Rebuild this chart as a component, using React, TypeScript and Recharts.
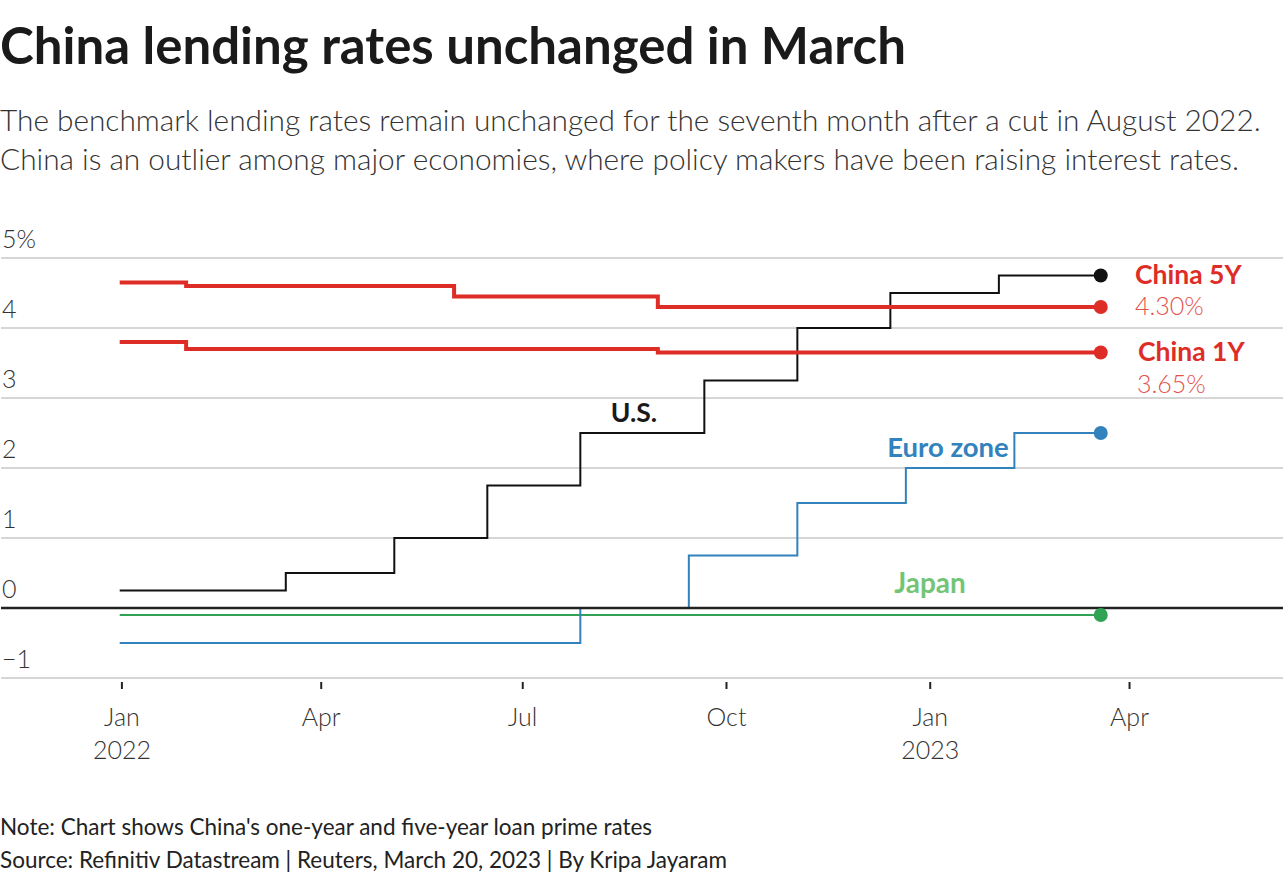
import { LineChart, Line, XAxis, YAxis, CartesianGrid, ReferenceLine } from 'recharts';

// policy / loan prime rates, in percent; each date is where the step happens
const startDate = '2021-12-31';
const endDate = '2023-03-19';

const china5yDates = [startDate, '2022-01-30', '2022-05-31', '2022-08-31', endDate];
const china5yRates = [4.65, 4.6, 4.45, 4.3, 4.3];

const china1yDates = [startDate, '2022-01-30', '2022-08-31', endDate];
const china1yRates = [3.8, 3.7, 3.65, 3.65];

const usDates = [startDate, '2022-03-16', '2022-05-04', '2022-06-15', '2022-07-27', '2022-09-21', '2022-11-02', '2022-12-14', '2023-02-01', endDate];
const usRates = [0.25, 0.5, 1, 1.75, 2.5, 3.25, 4, 4.5, 4.75, 4.75];

const euroDates = [startDate, '2022-07-27', '2022-09-14', '2022-11-02', '2022-12-21', '2023-02-08', endDate];
const euroRates = [-0.5, 0, 0.75, 1.5, 2, 2.5, 2.5];

const japanDates = [startDate, endDate];
const japanRates = [-0.1, -0.1];

const tickDates = ['2022-01-01', '2022-04-01', '2022-07-01', '2022-10-01', '2023-01-01', '2023-04-01'];
const tickMonths = ['Jan', 'Apr', 'Jul', 'Oct', 'Jan', 'Apr'];
const tickYears = ['2022', '', '', '', '2023', ''];

const yTicks = [-1, 0, 1, 2, 3, 4, 5];
const yTickLabels = ['−1', '0', '1', '2', '3', '4', '5%'];

const FONT = 'Lato, "Noto Sans", sans-serif';
const RED = '#de2d26';
const BLUE = '#3182bd';
const GREEN = '#31a354';

const origin = Date.parse('2022-01-01');
const toDay = (d: string) => (Date.parse(d) - origin) / 86400000;
const toPoints = (dates: string[], rates: number[]) =>
    dates.map((d, i) => ({ day: toDay(d), rate: rates[i] }));

const china5y = toPoints(china5yDates, china5yRates);
const china1y = toPoints(china1yDates, china1yRates);
const us = toPoints(usDates, usRates);
const euro = toPoints(euroDates, euroRates);
const japan = toPoints(japanDates, japanRates);

const xTicks = tickDates.map(toDay);

const endDot = (color: string, last: number) => (props: any) => {
    const { cx, cy, index } = props;
    if (index !== last) return <g key={`d-${index}`} />;
    return <circle key={`d-${index}`} cx={cx} cy={cy} r={7} fill={color} />;
};

const renderMonthTick = (props: any) => {
    const { x, y, index } = props;
    return (
        <g key={`xt-${index}`}>
            <line x1={x} x2={x} y1={y + 4} y2={y + 11} stroke="#222" strokeWidth={2} />
            <text x={x} y={y + 48} textAnchor="middle" fontSize={25} fontWeight={300} fill="#333" fontFamily={FONT}>
                {tickMonths[index]}
            </text>
            <text x={x} y={y + 81} textAnchor="middle" fontSize={25} fontWeight={300} fill="#333" fontFamily={FONT}>
                {tickYears[index]}
            </text>
        </g>
    );
};

const renderRateTick = (props: any) => {
    const { y, payload } = props;
    const i = yTicks.indexOf(payload.value);
    return (
        <text key={`yt-${i}`} x={2} y={y - 10} fontSize={25} fontWeight={300} fill="#333" fontFamily={FONT}>
            {yTickLabels[i]}
        </text>
    );
};

const App = () => {
    return (
        <div style={{ position: 'absolute', left: 0, top: 0, width: 1288, height: 880, background: '#fff', fontFamily: FONT }}>
            <LineChart width={1288} height={880} margin={{ top: 258, right: 5, bottom: 102, left: 0 }}>
                <CartesianGrid vertical={false} stroke="#c8c8c8" strokeWidth={1.5} />
                <XAxis
                    type="number"
                    dataKey="day"
                    domain={[-54.6, 524.3]}
                    allowDataOverflow
                    ticks={xTicks}
                    interval={0}
                    height={100}
                    axisLine={false}
                    tickLine={false}
                    tickSize={0}
                    tickMargin={0}
                    tick={renderMonthTick}
                />
                <YAxis
                    type="number"
                    domain={[-1, 5]}
                    ticks={yTicks}
                    interval={0}
                    width={1}
                    axisLine={false}
                    tickLine={false}
                    tickSize={0}
                    tickMargin={0}
                    tick={renderRateTick}
                />
                <Line data={japan} dataKey="rate" type="stepAfter" stroke={GREEN} strokeWidth={2} isAnimationActive={false} dot={endDot(GREEN, japan.length - 1)} activeDot={false} />
                <Line data={euro} dataKey="rate" type="stepAfter" stroke={BLUE} strokeWidth={2} isAnimationActive={false} dot={endDot(BLUE, euro.length - 1)} activeDot={false} />
                <ReferenceLine y={0} stroke="#222" strokeWidth={2.5} />
                <Line data={us} dataKey="rate" type="stepAfter" stroke="#111" strokeWidth={2} isAnimationActive={false} dot={endDot('#111', us.length - 1)} activeDot={false} />
                <Line data={china1y} dataKey="rate" type="stepAfter" stroke={RED} strokeWidth={4} isAnimationActive={false} dot={endDot(RED, china1y.length - 1)} activeDot={false} />
                <Line data={china5y} dataKey="rate" type="stepAfter" stroke={RED} strokeWidth={4} isAnimationActive={false} dot={endDot(RED, china5y.length - 1)} activeDot={false} />
            </LineChart>

            <svg width={1288} height={880} style={{ position: 'absolute', left: 0, top: 0, pointerEvents: 'none' }} fontFamily={FONT}>
                <text x={0} y={64} fontSize={51} fontWeight={700} fill="#1a1a1a">China lending rates unchanged in March</text>
                <text x={0} y={131} fontSize={29.8} fontWeight={300} fill="#333">The benchmark lending rates remain unchanged for the seventh month after a cut in August 2022.</text>
                <text x={0} y={170} fontSize={29.8} fontWeight={300} fill="#333">China is an outlier among major economies, where policy makers have been raising interest rates.</text>

                <text x={1135} y={284} fontSize={26.5} fontWeight={700} fill={RED}>China 5Y</text>
                <text x={1135} y={315} fontSize={25} fontWeight={300} fill="#e3534c">4.30%</text>
                <text x={1138} y={361} fontSize={26.5} fontWeight={700} fill={RED}>China 1Y</text>
                <text x={1137} y={393} fontSize={25} fontWeight={300} fill="#e3534c">3.65%</text>
                <text x={634} y={422} fontSize={26.5} fontWeight={700} fill="#1a1a1a" textAnchor="middle">U.S.</text>
                <text x={948} y={457} fontSize={27.5} fontWeight={700} fill={BLUE} textAnchor="middle">Euro zone</text>
                <text x={930} y={593} fontSize={28} fontWeight={700} fill="#74c476" textAnchor="middle">Japan</text>

                <text x={0} y={835} fontSize={22.5} fill="#222">Note: Chart shows China's one-year and five-year loan prime rates</text>
                <text x={0} y={868} fontSize={22.5} fill="#222">Source: Refinitiv Datastream | Reuters, March 20, 2023 | By Kripa Jayaram</text>
            </svg>
        </div>
    );
};

export default App;
